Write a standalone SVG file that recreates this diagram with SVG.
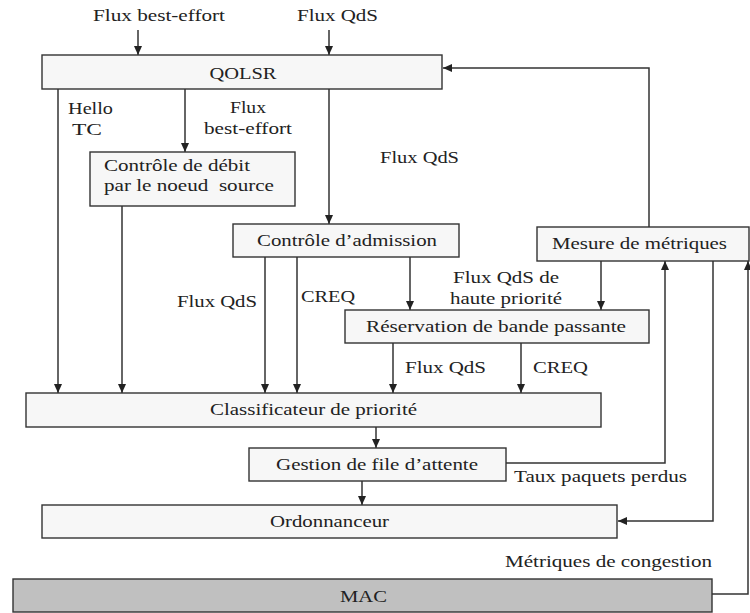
<svg xmlns="http://www.w3.org/2000/svg" width="750" height="613" viewBox="0 0 750 613">
  <style>
    .box { fill: #f7f7f7; stroke: #333; stroke-width: 1.4; }
    .mac { fill: #c0c0c0; stroke: #333; stroke-width: 1.4; }
    .wire { fill: none; stroke: #333; stroke-width: 1.5; }
    .arr { marker-end: url(#head); }
    text { font-family: "Liberation Serif", "DejaVu Serif", serif; font-size: 16px; fill: #222; white-space: pre; }
    .c { text-anchor: middle; }
  </style>
  <defs>
    <marker id="head" markerUnits="userSpaceOnUse" markerWidth="10" markerHeight="8" refX="9" refY="4" orient="auto">
      <path d="M0,0 L9,4 L0,8 z" fill="#222"/>
    </marker>
  </defs>
  <rect width="750" height="613" fill="#fff"/>

  <!-- connectors -->
  <g id="connectors">
    <path class="wire arr" d="M138,30 V55"/>
    <path class="wire arr" d="M329,30 V55"/>
    <path class="wire arr" d="M649,227 V68 H443"/>
    <path class="wire arr" d="M58,89 V393"/>
    <path class="wire arr" d="M185,89 V152"/>
    <path class="wire arr" d="M122,206 V393"/>
    <path class="wire arr" d="M329,89 V224"/>
    <path class="wire arr" d="M265,257 V393"/>
    <path class="wire arr" d="M297,257 V393"/>
    <path class="wire arr" d="M410,257 V310"/>
    <path class="wire arr" d="M601,261 V310"/>
    <path class="wire arr" d="M393,343 V393"/>
    <path class="wire arr" d="M521,343 V393"/>
    <path class="wire arr" d="M376,427 V448"/>
    <path class="wire arr" d="M362,481 V505"/>
    <path class="wire arr" d="M506,463 H665 V261"/>
    <path class="wire arr" d="M713,261 V521 H618"/>
    <path class="wire arr" d="M712,594 H748 V261"/>

    <text x="159" y="21" class="c" textLength="132" lengthAdjust="spacingAndGlyphs">Flux best-effort</text>
    <text x="337.5" y="21" class="c" textLength="81" lengthAdjust="spacingAndGlyphs">Flux QdS</text>
    <text x="90.5" y="114" class="c" textLength="45" lengthAdjust="spacingAndGlyphs">Hello</text>
    <text x="87" y="135" class="c" textLength="30" lengthAdjust="spacingAndGlyphs">TC</text>
    <text x="248" y="113" class="c" textLength="36" lengthAdjust="spacingAndGlyphs">Flux</text>
    <text x="248" y="134" class="c" textLength="88" lengthAdjust="spacingAndGlyphs">best-effort</text>
    <text x="419.5" y="163" class="c" textLength="79" lengthAdjust="spacingAndGlyphs">Flux QdS</text>
    <text x="217" y="307" class="c" textLength="80" lengthAdjust="spacingAndGlyphs">Flux QdS</text>
    <text x="328" y="302" class="c" textLength="54" lengthAdjust="spacingAndGlyphs">CREQ</text>
    <text x="506" y="283" class="c" textLength="106" lengthAdjust="spacingAndGlyphs">Flux QdS de</text>
    <text x="506" y="304" class="c" textLength="112" lengthAdjust="spacingAndGlyphs">haute priorité</text>
    <text x="445.5" y="373" class="c" textLength="81" lengthAdjust="spacingAndGlyphs">Flux QdS</text>
    <text x="560.5" y="373" class="c" textLength="55" lengthAdjust="spacingAndGlyphs">CREQ</text>
    <text x="600.5" y="482" class="c" textLength="173" lengthAdjust="spacingAndGlyphs">Taux paquets perdus</text>
    <text x="608.5" y="567" class="c" textLength="207" lengthAdjust="spacingAndGlyphs">Métriques de congestion</text>
  </g>

  <!-- nodes -->
  <g id="qolsr">
    <rect class="box" x="42" y="55" width="400" height="34"/>
    <text x="243" y="79" class="c" textLength="67" lengthAdjust="spacingAndGlyphs">QOLSR</text>
  </g>
  <g id="controle-debit">
    <rect class="box" x="90" y="152" width="205" height="54"/>
    <text x="104" y="171" textLength="146" lengthAdjust="spacingAndGlyphs">Contrôle de débit</text>
    <text x="104" y="191" textLength="170" lengthAdjust="spacingAndGlyphs">par le noeud  source</text>
  </g>
  <g id="controle-admission">
    <rect class="box" x="233" y="224" width="226" height="33"/>
    <text x="347" y="246" class="c" textLength="180" lengthAdjust="spacingAndGlyphs">Contrôle d’admission</text>
  </g>
  <g id="mesure-metriques">
    <rect class="box" x="537" y="227" width="212" height="34"/>
    <text x="639.5" y="249" class="c" textLength="175" lengthAdjust="spacingAndGlyphs">Mesure de métriques</text>
  </g>
  <g id="reservation">
    <rect class="box" x="345" y="310" width="304" height="33"/>
    <text x="496" y="332" class="c" textLength="260" lengthAdjust="spacingAndGlyphs">Réservation de bande passante</text>
  </g>
  <g id="classificateur">
    <rect class="box" x="26" y="393" width="575" height="34"/>
    <text x="313.5" y="415" class="c" textLength="207" lengthAdjust="spacingAndGlyphs">Classificateur de priorité</text>
  </g>
  <g id="gestion-file">
    <rect class="box" x="249" y="448" width="257" height="33"/>
    <text x="377" y="470" class="c" textLength="202" lengthAdjust="spacingAndGlyphs">Gestion de file d’attente</text>
  </g>
  <g id="ordonnanceur">
    <rect class="box" x="42" y="505" width="575" height="33"/>
    <text x="329.5" y="527" class="c" textLength="119" lengthAdjust="spacingAndGlyphs">Ordonnanceur</text>
  </g>
  <g id="mac">
    <rect class="mac" x="13" y="579" width="699" height="33"/>
    <text x="363.5" y="602" class="c" textLength="47" lengthAdjust="spacingAndGlyphs">MAC</text>
  </g>
</svg>
